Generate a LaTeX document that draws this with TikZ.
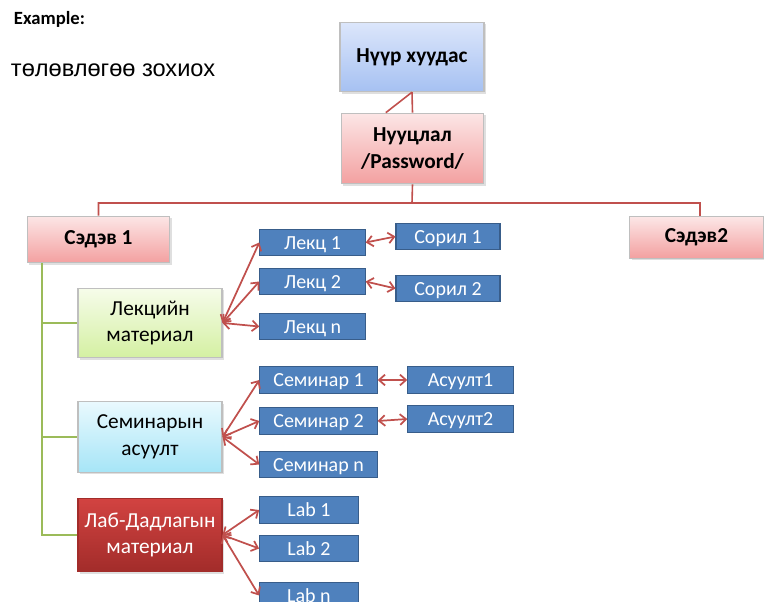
\documentclass[tikz,border=0pt]{standalone}
\usepackage{fontspec}
\setmainfont{Carlito}
\newfontfamily\titlefont{Liberation Sans}
\usetikzlibrary{shadows,arrows.meta}
\definecolor{linkred}{HTML}{C0504D}
\definecolor{linkgreen}{HTML}{9BBB59}
\definecolor{cellblue}{HTML}{4F81BD}
\definecolor{cellrim}{HTML}{385D8A}
\definecolor{rimgray}{HTML}{BFBFBF}
\definecolor{bluetop}{HTML}{DCE6FB}
\definecolor{bluebot}{HTML}{A6C1F2}
\definecolor{pinktop}{HTML}{FCE6E6}
\definecolor{pinkbot}{HTML}{F3A0A0}
\definecolor{greentop}{HTML}{F6FCEA}
\definecolor{greenbot}{HTML}{D4F0A2}
\definecolor{cyantop}{HTML}{E9F9FE}
\definecolor{cyanbot}{HTML}{A6E5F7}
\definecolor{labtop}{HTML}{D24341}
\definecolor{labbot}{HTML}{A22C2A}
\begin{document}
\begin{tikzpicture}[x=0.75pt, y=-0.75pt, >={Straight Barb[length=4.5pt,width=8pt,line width=1.3pt]}, thick,
  box/.style={draw=rimgray, inner sep=0pt, align=center,
    drop shadow={opacity=0.25, shadow xshift=1.5pt, shadow yshift=-1.5pt}},
  headbox/.style={box, font=\bfseries\fontsize{16}{20}\selectfont},
  bluehead/.style={headbox, top color=bluetop, bottom color=bluebot},
  pinkhead/.style={headbox, top color=pinktop, bottom color=pinkbot},
  topicbox/.style={pinkhead, font=\bfseries\fontsize{16}{19}\selectfont},
  groupbox/.style={box, minimum width=108pt, font=\fontsize{16}{20}\selectfont},
  cell/.style={draw=cellrim, fill=cellblue, text=white, inner sep=0pt,
    minimum height=20pt, text height=2.1ex, text depth=0pt, font=\fontsize{15}{17}\selectfont},
  redline/.style={draw=linkred, line width=1.2pt},
  link/.style={<->, draw=linkred, line width=1.3pt}]
\useasboundingbox (0,0) rectangle (764,602);
\clip (0,0) rectangle (764,602);

\node[anchor=west, font=\bfseries\fontsize{14}{16}\selectfont] (ex) at (9,19) {Example:};
\node[anchor=west, font=\titlefont\fontsize{17.7}{20}\selectfont] (title) at (6,70) {төлөвлөгөө зохиох};

\node[bluehead, minimum width=108pt, minimum height=52pt] (home) at (412,57) {Нүүр хуудас};
\node[pinkhead, minimum width=107pt, minimum height=53pt] (pass) at (412.5,148.5) {Нууцлал\\/Password/};
\node[topicbox, minimum width=107pt, minimum height=35pt] (topic1) at (98.5,239.5) {Сэдэв 1};
\node[topicbox, minimum width=100pt, minimum height=31pt] (topic2) at (696.5,237.5) {Сэдэв2};

\node[groupbox, top color=greentop, bottom color=greenbot, minimum height=52pt] (lec) at (150,323) {Лекцийн\\материал};
\node[groupbox, top color=cyantop, bottom color=cyanbot, minimum height=53pt] (sem) at (150,437) {Семинарын\\асуулт};
\node[groupbox, draw=labbot, top color=labtop, bottom color=labbot, text=white, minimum height=55pt] (lab) at (150,535) {Лаб-Дадлагын\\материал};

\node[cell, minimum width=79pt] (lek1) at (312.5,242.5) {Лекц 1};
\node[cell, minimum width=79pt] (lek2) at (312.5,281.5) {Лекц 2};
\node[cell, minimum width=79pt] (lekn) at (312.5,326.5) {Лекц n};
\node[cell, minimum width=78pt] (sor1) at (448,236.5) {Сорил 1};
\node[cell, minimum width=78pt] (sor2) at (448,288.5) {Сорил 2};

\node[cell, minimum width=88pt] (sem1) at (318.5,380) {Семинар 1};
\node[cell, minimum width=88pt] (sem2) at (318.5,421) {Семинар 2};
\node[cell, minimum width=88pt] (semn) at (318.5,464.5) {Семинар n};
\node[cell, minimum width=79pt] (asu1) at (460.5,380) {Асуулт1};
\node[cell, minimum width=79pt] (asu2) at (460.5,419) {Асуулт2};

\node[cell, minimum width=74pt] (lab1) at (309,510) {Lab 1};
\node[cell, minimum width=74pt] (lab2) at (309,548.5) {Lab 2};
\node[cell, minimum width=74pt] (labn) at (309,595.5) {Lab n};

\coordinate (bus) at (412,203);
\coordinate (spine) at (42,263);

\draw[redline] (home.south) -- (pass.north);
\draw[redline] (home.south) -- ([xshift=-20pt]pass.north);
\draw[redline] (pass.south) -- (bus) -| (topic1.north);
\draw[redline] (bus) -| ([xshift=2.6pt]topic2.north);

\draw[linkgreen, line width=1.2pt] (spine) |- (lab.west);
\draw[linkgreen, line width=1.2pt] (spine |- lec.west) -- (lec.west);
\draw[linkgreen, line width=1.2pt] (spine |- sem.west) -- (sem.west);

\draw[link] (lec.east) -- (lek1.west);
\draw[link] (lec.east) -- (lek2.west);
\draw[link] (lec.east) -- (lekn.west);
\draw[link] (lek1.east) -- (sor1.west);
\draw[link] (lek2.east) -- (sor2.west);

\draw[link] (sem.east) -- (sem1.west);
\draw[link] (sem.east) -- (sem2.west);
\draw[link] (sem.east) -- (semn.west);
\draw[link] (sem1.east) -- (asu1.west);
\draw[link] (sem2.east) -- (asu2.west);

\draw[link] (lab.east) -- (lab1.west);
\draw[link] (lab.east) -- (lab2.west);
\draw[link] (lab.east) -- (labn.west);
\end{tikzpicture}
\end{document}
